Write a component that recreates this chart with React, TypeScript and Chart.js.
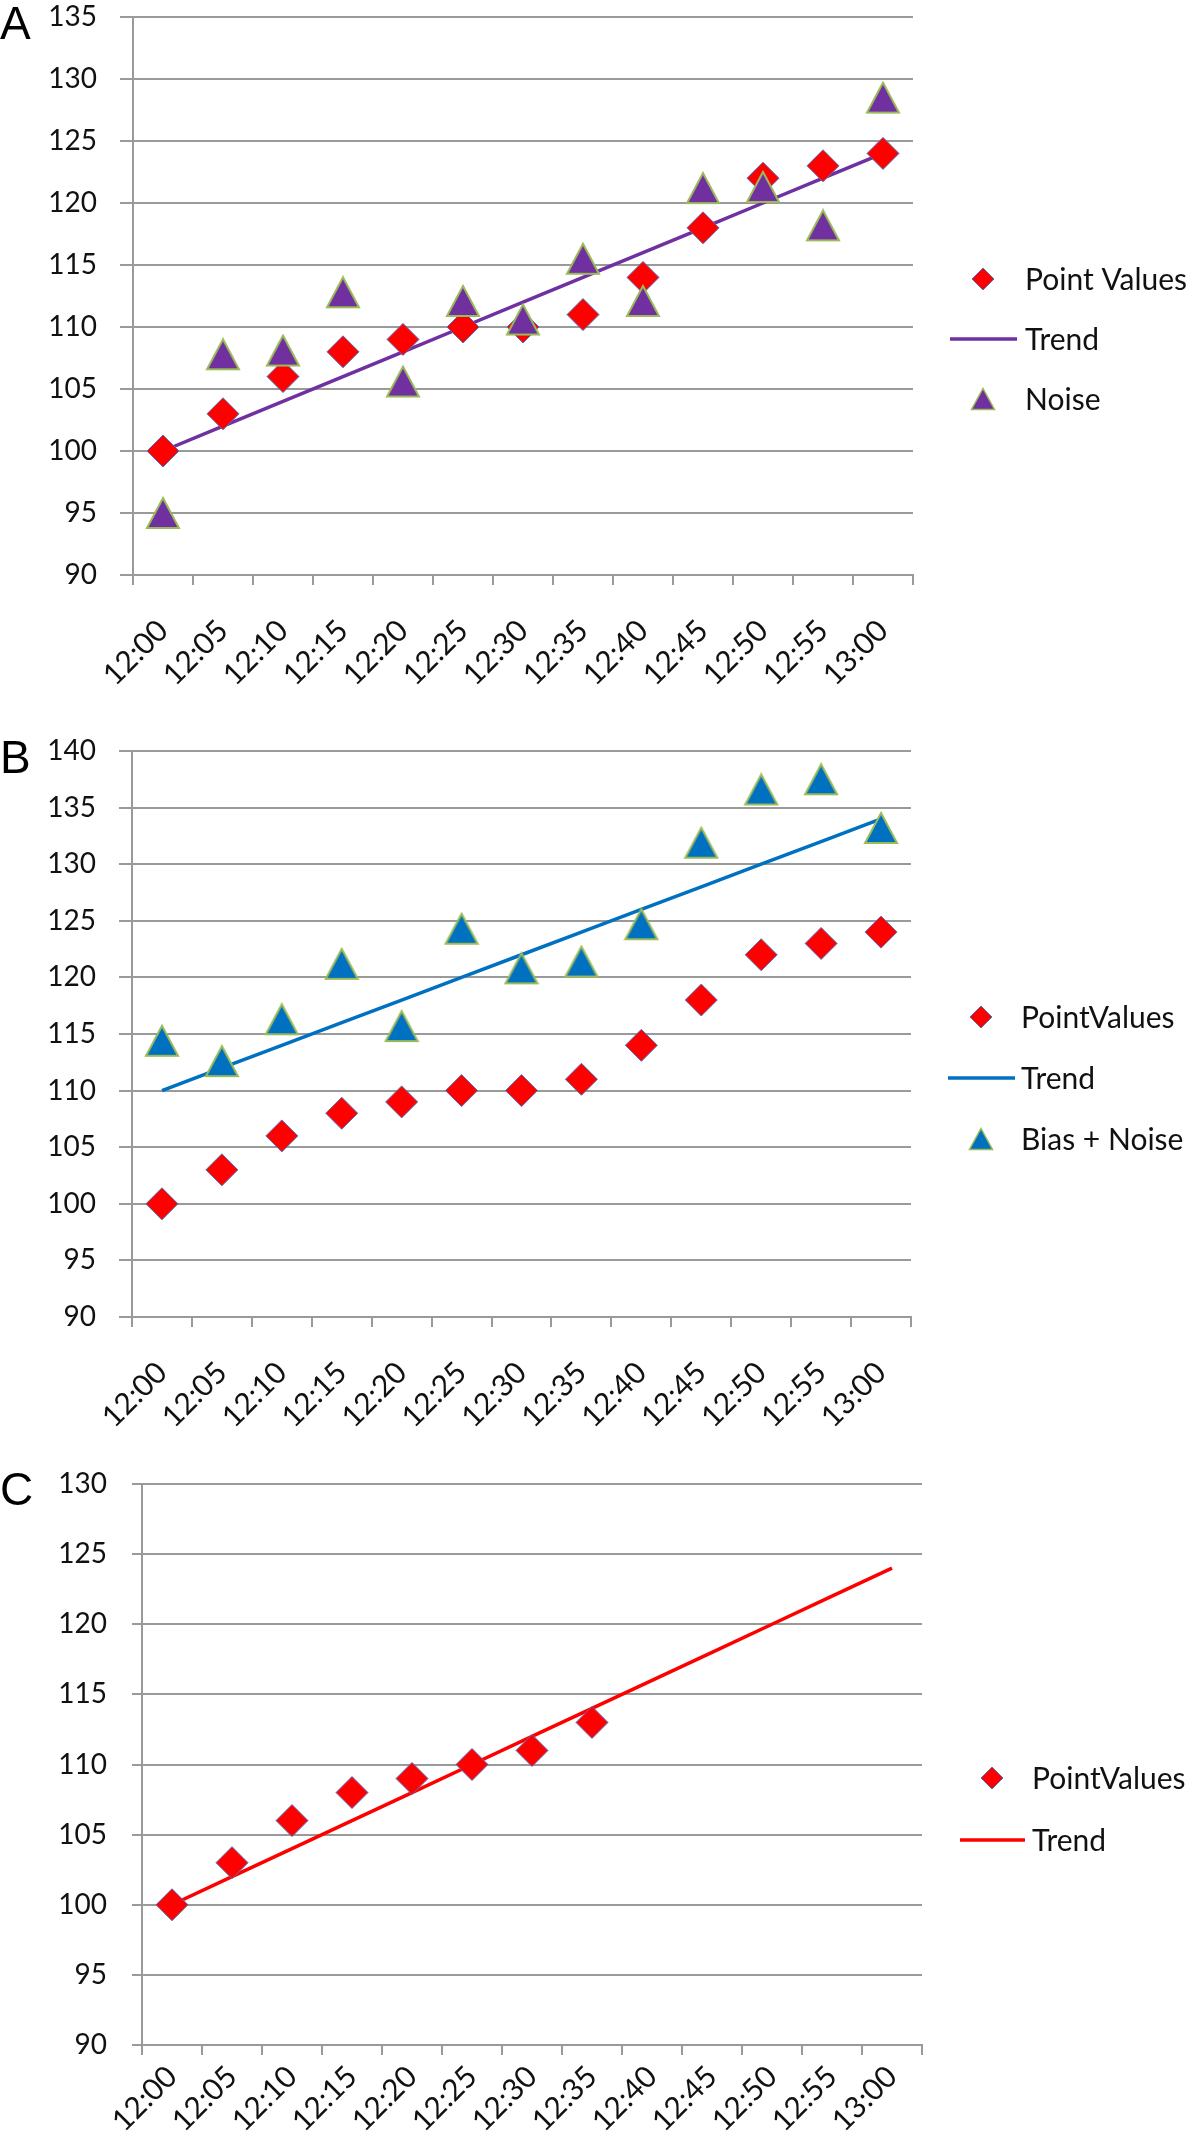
import React, { useEffect, useRef } from 'react';
import { Chart, registerables } from 'chart.js';

Chart.register(...registerables);

// ---------- data ----------
const timeLabels = ['12:00', '12:05', '12:10', '12:15', '12:20', '12:25', '12:30', '12:35', '12:40', '12:45', '12:50', '12:55', '13:00'];

const pointValuesA = [100, 103, 106, 108, 109, 110, 110, 111, 114, 118, 122, 123, 124];
const trendA = [100, 102, 104, 106, 108, 110, 112, 114, 116, 118, 120, 122, 124];
const noiseA = [95, 107.8, 108.1, 112.8, 105.6, 112.1, 110.6, 115.5, 112.1, 121.2, 121.3, 118.2, 128.5];

const pointValuesB = [100, 103, 106, 108, 109, 110, 110, 111, 114, 118, 122, 123, 124];
const trendB = [110, 112, 114, 116, 118, 120, 122, 124, 126, 128, 130, 132, 134];
const biasNoiseB = [114.4, 112.6, 116.3, 121.2, 115.7, 124.3, 120.8, 121.4, 124.7, 131.9, 136.6, 137.5, 133.2];

const pointValuesC = [100, 103, 106, 108, 109, 110, 111, 113, null, null, null, null, null];
const trendC = [100, 102, 104, 106, 108, 110, 112, 114, 116, 118, 120, 122, 124];

const yRangeA = [90, 135];
const yRangeB = [90, 140];
const yRangeC = [90, 130];
const yStep = 5;

const legendA = ['Point Values', 'Trend', 'Noise'];
const legendB = ['PointValues', 'Trend', 'Bias + Noise'];
const legendC = ['PointValues', 'Trend'];

// ---------- styles ----------
const RED = '#ff0000';
const DIAMOND_EDGE = '#4f73b8';
const PURPLE = '#7030a0';
const BLUE = '#0070c0';
const OLIVE = '#9bbb59';
const GRID = '#9a9a9a';
const FONT = 'Lato';

function triangleImage(fill: string, stroke: string, w: number, h: number, lw: number) {
  const c = document.createElement('canvas');
  c.width = Math.ceil(w + lw * 2);
  c.height = Math.ceil(h + lw * 2);
  const g = c.getContext('2d')!;
  g.beginPath();
  g.moveTo(c.width / 2, lw);
  g.lineTo(c.width - lw, lw + h);
  g.lineTo(lw, lw + h);
  g.closePath();
  g.fillStyle = fill;
  g.fill();
  g.lineWidth = lw;
  g.strokeStyle = stroke;
  g.lineJoin = 'miter';
  g.stroke();
  return c;
}

type LegendItem = { label: string; kind: 'diamond' | 'triangle' | 'line'; color: string; image?: HTMLCanvasElement };

type PanelCfg = {
  top: number;
  height: number;
  area: { left: number; right: number; top: number; bottom: number };
  yRange: number[];
  tickLen: number;
  labelPad: number;
  xPad: number;
  datasets: any[];
  legend: { items: LegendItem[]; markerX: number; textX: number; line: number[]; ys: number[] };
};

function makeLegendPlugin(cfg: PanelCfg) {
  return {
    id: 'panelLegend',
    afterDraw(chart: any) {
      const ctx = chart.ctx as CanvasRenderingContext2D;
      const L = cfg.legend;
      ctx.save();
      L.items.forEach((item, i) => {
        const y = L.ys[i];
        const x = L.markerX;
        if (item.kind === 'line') {
          ctx.strokeStyle = item.color;
          ctx.lineWidth = 3.5;
          ctx.beginPath();
          ctx.moveTo(L.line[0], y);
          ctx.lineTo(L.line[1], y);
          ctx.stroke();
        } else if (item.kind === 'diamond') {
          const r = 11;
          ctx.beginPath();
          ctx.moveTo(x, y - r);
          ctx.lineTo(x + r, y);
          ctx.lineTo(x, y + r);
          ctx.lineTo(x - r, y);
          ctx.closePath();
          ctx.fillStyle = RED;
          ctx.fill();
          ctx.lineWidth = 1;
          ctx.strokeStyle = DIAMOND_EDGE;
          ctx.stroke();
        } else if (item.kind === 'triangle' && item.image) {
          ctx.drawImage(item.image, x - item.image.width / 2, y - item.image.height / 2);
        }
        ctx.fillStyle = '#111';
        ctx.font = `30px ${FONT}`;
        ctx.textBaseline = 'middle';
        ctx.textAlign = 'left';
        ctx.fillText(item.label, L.textX, y + 1);
      });
      ctx.restore();
    },
  };
}

function buildConfig(cfg: PanelCfg): any {
  const W = 1200;
  return {
    type: 'line',
    data: { labels: timeLabels, datasets: cfg.datasets },
    options: {
      responsive: false,
      animation: false,
      events: [],
      layout: { padding: { left: 0, top: cfg.area.top, right: W - cfg.area.right, bottom: 0 } },
      plugins: { legend: { display: false }, tooltip: { enabled: false }, title: { display: false } },
      scales: {
        x: {
          type: 'category',
          offset: true,
          grid: { offset: true, drawOnChartArea: false, drawTicks: true, tickLength: 10, color: GRID, lineWidth: 2 },
          border: { color: GRID, width: 2 },
          ticks: {
            autoSkip: false,
            minRotation: 45,
            maxRotation: 45,
            padding: cfg.xPad,
            color: '#111',
            font: { family: FONT, size: 30, lineHeight: 1 },
          },
          afterFit: (s: any) => {
            s.height = cfg.height - cfg.area.bottom;
            s.paddingLeft = 0;
            s.paddingRight = 0;
          },
        },
        y: {
          type: 'linear',
          min: cfg.yRange[0],
          max: cfg.yRange[1],
          grid: { color: GRID, lineWidth: 2, tickLength: cfg.tickLen },
          border: { color: GRID, width: 2 },
          ticks: {
            stepSize: yStep,
            padding: cfg.labelPad,
            color: '#111',
            font: { family: FONT, size: 28, lineHeight: 1 },
          },
          afterFit: (s: any) => {
            s.width = cfg.area.left;
            s.paddingTop = 0;
            s.paddingBottom = 0;
          },
        },
      },
    },
    plugins: [makeLegendPlugin(cfg)],
  };
}

function Panel({ make }: { make: () => PanelCfg }) {
  const ref = useRef<HTMLCanvasElement | null>(null);
  const cfgRef = useRef<PanelCfg | null>(null);
  if (!cfgRef.current) cfgRef.current = make();
  const cfg = cfgRef.current;
  useEffect(() => {
    const chart = new Chart(ref.current as HTMLCanvasElement, buildConfig(cfg));
    return () => chart.destroy();
  }, []);
  return (
    <canvas
      ref={ref}
      width={1200}
      height={cfg.height}
      style={{ position: 'absolute', left: 0, top: cfg.top, width: 1200, height: cfg.height }}
    />
  );
}

const diamondDs = (label: string, data: (number | null)[]) => ({
  label,
  data,
  showLine: false,
  pointStyle: 'rectRot',
  pointRadius: 16,
  pointBackgroundColor: RED,
  pointBorderColor: DIAMOND_EDGE,
  pointBorderWidth: 1,
  borderColor: RED,
  backgroundColor: RED,
});

const lineDs = (label: string, data: number[], color: string) => ({
  label,
  data,
  borderColor: color,
  backgroundColor: color,
  borderWidth: 3.5,
  pointRadius: 0,
  tension: 0,
  fill: false,
});

const triDs = (label: string, data: number[], img: HTMLCanvasElement, color: string) => ({
  label,
  data,
  showLine: false,
  pointStyle: img,
  pointRadius: 16,
  borderColor: color,
  backgroundColor: color,
});

function makeA(): PanelCfg {
  const tri = triangleImage(PURPLE, OLIVE, 32, 30, 2);
  const triL = triangleImage(PURPLE, OLIVE, 23, 21, 1.5);
  return {
    top: 0,
    height: 700,
    area: { left: 133, right: 913, top: 15, bottom: 575 },
    yRange: yRangeA,
    tickLen: 13,
    labelPad: 23,
    xPad: 30,
    datasets: [
      triDs(legendA[2], noiseA, tri, PURPLE),
      diamondDs(legendA[0], pointValuesA),
      lineDs(legendA[1], trendA, PURPLE),
    ],
    legend: {
      items: [
        { label: legendA[0], kind: 'diamond', color: RED },
        { label: legendA[1], kind: 'line', color: PURPLE },
        { label: legendA[2], kind: 'triangle', color: PURPLE, image: triL },
      ],
      markerX: 983,
      textX: 1025,
      line: [950, 1017],
      ys: [279, 339, 399],
    },
  };
}

function makeB(): PanelCfg {
  const tri = triangleImage(BLUE, OLIVE, 32, 30, 2);
  const triL = triangleImage(BLUE, OLIVE, 23, 21, 1.5);
  return {
    top: 700,
    height: 740,
    area: { left: 132, right: 911, top: 51, bottom: 617 },
    yRange: yRangeB,
    tickLen: 13,
    labelPad: 23,
    xPad: 30,
    datasets: [
      triDs(legendB[2], biasNoiseB, tri, BLUE),
      diamondDs(legendB[0], pointValuesB),
      lineDs(legendB[1], trendB, BLUE),
    ],
    legend: {
      items: [
        { label: legendB[0], kind: 'diamond', color: RED },
        { label: legendB[1], kind: 'line', color: BLUE },
        { label: legendB[2], kind: 'triangle', color: BLUE, image: triL },
      ],
      markerX: 981,
      textX: 1021,
      line: [948, 1015],
      ys: [317, 378, 439],
    },
  };
}

function makeC(): PanelCfg {
  return {
    top: 1440,
    height: 709,
    area: { left: 142, right: 922, top: 44, bottom: 605 },
    yRange: yRangeC,
    tickLen: 10,
    labelPad: 25,
    xPad: 6,
    datasets: [diamondDs(legendC[0], pointValuesC), lineDs(legendC[1], trendC, RED)],
    legend: {
      items: [
        { label: legendC[0], kind: 'diamond', color: RED },
        { label: legendC[1], kind: 'line', color: RED },
      ],
      markerX: 992,
      textX: 1032,
      line: [960, 1025],
      ys: [338, 400],
    },
  };
}

const letterStyle = (top: number): React.CSSProperties => ({
  position: 'absolute',
  left: 0,
  top,
  fontFamily: '"Liberation Sans", Arial, sans-serif',
  fontSize: 46,
  lineHeight: '46px',
  color: '#000',
});

export default function App() {
  return (
    <div style={{ position: 'absolute', left: 0, top: 0, width: 1200, height: 2149, background: '#fff', overflow: 'hidden' }}>
      <Panel make={makeA} />
      <Panel make={makeB} />
      <Panel make={makeC} />
      <div style={letterStyle(0)}>A</div>
      <div style={letterStyle(734)}>B</div>
      <div style={letterStyle(1466)}>C</div>
    </div>
  );
}
